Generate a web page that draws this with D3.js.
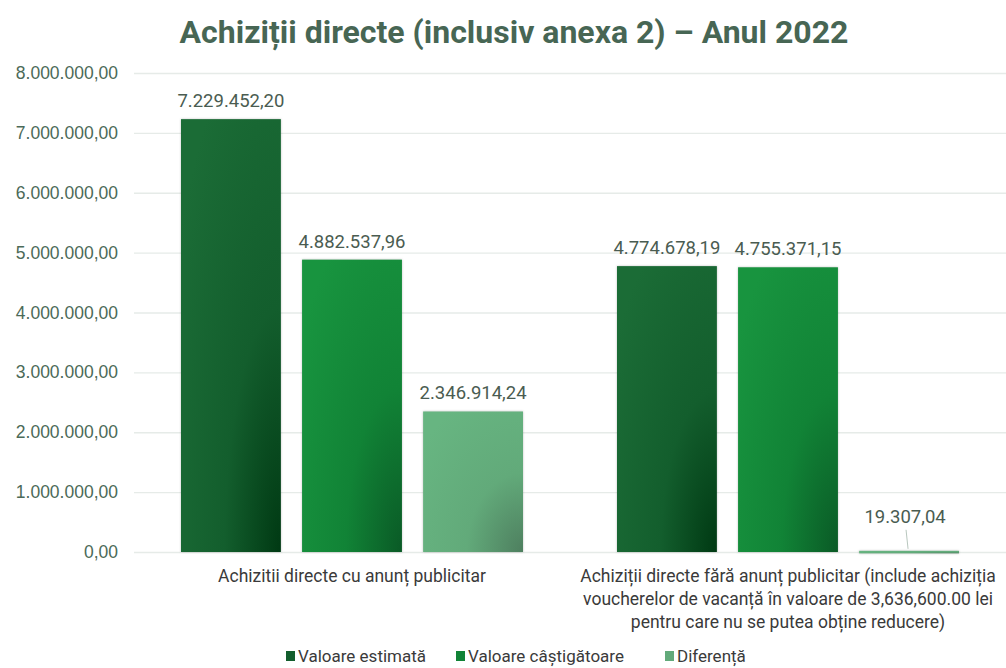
<!DOCTYPE html>
<html lang="ro">
<head>
<meta charset="UTF-8">
<title>Achiziții directe 2022</title>
<script src="https://cdn.jsdelivr.net/npm/d3@7"></script>
<style>
  html, body { margin: 0; padding: 0; background: #fff; }
  svg { display: block; font-family: Roboto, "Noto Sans", sans-serif; }
</style>
</head>
<body>
<svg width="1006" height="668"></svg>
<script>
// date
var categories = [
  ["Achizitii directe cu anunț publicitar"],
  ["Achiziții directe fără anunț publicitar (include achiziția",
   "voucherelor de vacanță în valoare de 3,636,600.00 lei",
   "pentru care nu se putea obține reducere)"]
];
var series = ["Valoare estimată", "Valoare câștigătoare", "Diferență"];
var estimata = [7229452.20, 4774678.19];
var castigatoare = [4882537.96, 4755371.15];
var diferenta = [2346914.24, 19307.04];
var yTicks = [0, 1000000, 2000000, 3000000, 4000000, 5000000, 6000000, 7000000, 8000000];

var svg = d3.select("svg"),
    margin = { top: 73, right: 0, bottom: 116, left: 134 },
    width = 1006 - margin.left - margin.right,
    height = 668 - margin.top - margin.bottom;

var ro = d3.formatLocale({ decimal: ",", thousands: ".", grouping: [3], currency: ["", ""] });
var fmt = ro.format(",.2f");

var x0 = d3.scaleBand().domain(d3.range(categories.length)).range([0, width]);
var x1 = d3.scaleBand().domain(series).range([47, x0.bandwidth() - 47]).paddingInner(0.175);
var y = d3.scaleLinear().domain([0, 8000000]).range([height, 0]);

var cols = {
  "Valoare estimată": ["#1b6c36", "#135e2d", "#003913"],
  "Valoare câștigătoare": ["#18943f", "#118336", "#0a5a26"],
  "Diferență": ["#67b581", "#62aa7a", "#4e7f5f"]
};

var defs = svg.append("defs");
series.forEach(function (s, i) {
  var gr = defs.append("radialGradient")
    .attr("id", "g" + i)
    .attr("cx", "1").attr("cy", "1").attr("r", "1.25")
    .attr("fx", "1").attr("fy", "1");
  gr.append("stop").attr("offset", "0").attr("stop-color", cols[s][2]);
  gr.append("stop").attr("offset", "0.45").attr("stop-color", cols[s][1]);
  gr.append("stop").attr("offset", "1").attr("stop-color", cols[s][0]);
});

var g = svg.append("g").attr("transform", "translate(" + margin.left + "," + margin.top + ")");

// grid
g.append("g")
  .call(d3.axisLeft(y).tickValues(yTicks).tickSize(-width).tickFormat(fmt).tickPadding(16))
  .call(function (a) {
    a.select(".domain").remove();
    a.selectAll(".tick line").attr("stroke", "#e6ebe8").attr("stroke-width", 1.3);
    a.selectAll(".tick text").attr("fill", "#4b6a58").attr("font-size", 17.5);
  });

var rows = categories.map(function (c, i) {
  return [estimata[i], castigatoare[i], diferenta[i]];
});

var grp = g.selectAll("g.grp").data(rows).enter().append("g")
  .attr("class", "grp")
  .attr("transform", function (d, i) { return "translate(" + x0(i) + ",0)"; });

grp.selectAll("rect")
  .data(function (d) { return d.map(function (v, j) { return { key: series[j], j: j, value: v }; }); })
  .enter().append("rect")
  .attr("x", function (d) { return x1(d.key); })
  .attr("y", function (d) { return y(d.value); })
  .attr("width", x1.bandwidth())
  .attr("height", function (d) { return Math.max(2.5, height - y(d.value)); })
  .attr("fill", function (d) { return "url(#g" + d.j + ")"; })
  .style("filter", "drop-shadow(0px 0px 1px rgba(0,0,0,0.25))");

grp.each(function (d) {
  var gg = d3.select(this);
  d.forEach(function (v, j) {
    var cx = x1(series[j]) + x1.bandwidth() / 2;
    var small = height - y(v) < 20;
    var ty = small ? y(v) - 28 : y(v) - 12;
    if (small) {
      gg.append("line")
        .attr("x1", cx - 3).attr("y1", ty + 7)
        .attr("x2", cx - 1).attr("y2", y(v) - 2)
        .attr("stroke", "#b8c7be").attr("stroke-width", 1);
    }
    gg.append("text")
      .attr("x", cx - (small ? 4 : 0))
      .attr("y", ty)
      .attr("text-anchor", "middle")
      .attr("fill", "#4a5c51")
      .attr("font-size", 18.5)
      .text(fmt(v));
  });
});

// category labels
categories.forEach(function (lines, i) {
  var cx = margin.left + x0(i) + x0.bandwidth() / 2;
  var t = svg.append("text")
    .attr("transform", "translate(" + cx + "," + (margin.top + height + 30) + ")")
    .attr("text-anchor", "middle")
    .attr("fill", "#3a3a3a")
    .attr("font-size", 17.5);
  lines.forEach(function (l, k) {
    t.append("tspan")
      .attr("x", 0)
      .attr("dy", k ? 23 : 0)
      .text(l);
  });
});

// title
svg.append("text")
  .attr("x", 514).attr("y", 43)
  .attr("text-anchor", "middle")
  .attr("font-size", 32).attr("font-weight", 700)
  .attr("fill", "#476654")
  .text("Achiziții directe (inclusiv anexa 2) – Anul 2022");

// legend
var legX = [286, 456, 665];
var leg = svg.append("g").selectAll("g").data(series).enter().append("g")
  .attr("transform", function (d, i) { return "translate(" + legX[i] + ",651)"; });
leg.append("rect").attr("width", 9).attr("height", 10).attr("y", 0)
  .attr("fill", function (d) { return cols[d][1]; });
leg.append("text").attr("x", 12).attr("y", 10.5)
  .attr("font-size", 17).attr("fill", "#3a3a3a")
  .text(function (d) { return d; });
</script>
</body>
</html>
